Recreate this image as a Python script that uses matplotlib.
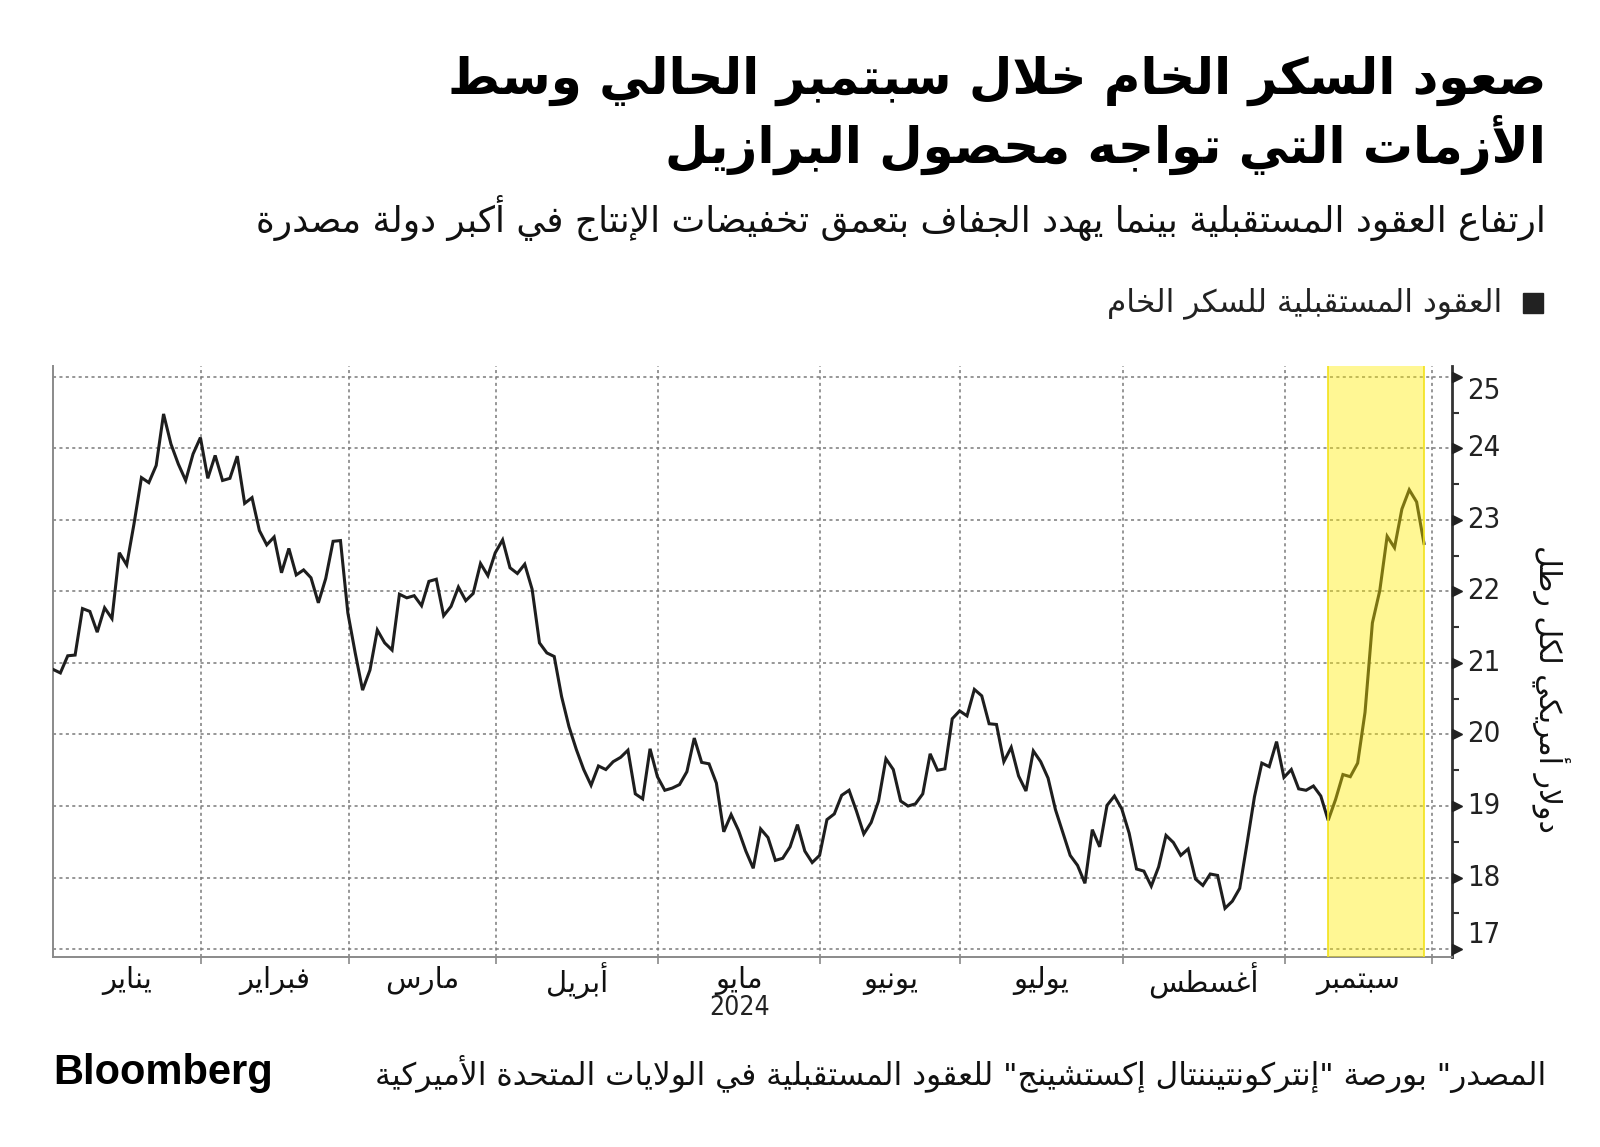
import numpy as np
import pandas as pd
import matplotlib
matplotlib.use("Agg")
import matplotlib.pyplot as plt
from matplotlib.transforms import blended_transform_factory

# ---------------- data ----------------
title_lines = ["صعود السكر الخام خلال سبتمبر الحالي وسط",
               "الأزمات التي تواجه محصول البرازيل"]
subtitle = "ارتفاع العقود المستقبلية بينما يهدد الجفاف بتعمق تخفيضات الإنتاج في أكبر دولة مصدرة"
legend_label = "العقود المستقبلية للسكر الخام"
y_label = "دولار أمريكي لكل رطل"
source_text = 'المصدر" بورصة "إنتركونتيننتال إكستشينج" للعقود المستقبلية في الولايات المتحدة الأميركية'
year_label = "2024"
month_names = ["يناير", "فبراير", "مارس", "أبريل", "مايو", "يونيو", "يوليو", "أغسطس", "سبتمبر"]
y_ticks = [17, 18, 19, 20, 21, 22, 23, 24, 25]

calendar_start = "2024-01-02"
calendar_end = "2024-09-30"
market_holidays = ["2024-01-15", "2024-02-19", "2024-03-29", "2024-05-27",
                   "2024-06-19", "2024-07-04", "2024-09-02"]
highlight_start = "2024-09-10"
highlight_end = "2024-09-27"

# raw sugar futures, US cents per pound, one value per trading day from 2 Jan 2024
sugar_price = [
    20.91, 20.86, 21.10, 21.11, 21.76, 21.72, 21.43, 21.77, 21.62, 22.54,
    22.37, 22.95, 23.59, 23.52, 23.76, 24.48, 24.06, 23.78, 23.55, 23.92,
    24.15, 23.58, 23.90, 23.55, 23.58, 23.89, 23.23, 23.31, 22.85, 22.65,
    22.76, 22.26, 22.60, 22.23, 22.30, 22.19, 21.84, 22.18, 22.70, 22.71,
    21.70, 21.14, 20.62, 20.90, 21.46, 21.28, 21.18, 21.96, 21.91, 21.94,
    21.80, 22.14, 22.17, 21.66, 21.79, 22.06, 21.87, 21.97, 22.39, 22.22,
    22.54, 22.72, 22.33, 22.25, 22.38, 22.03, 21.28, 21.14, 21.09, 20.53,
    20.11, 19.79, 19.51, 19.29, 19.56, 19.51, 19.62, 19.68, 19.78, 19.17,
    19.10, 19.80, 19.41, 19.22, 19.25, 19.30, 19.48, 19.95, 19.61, 19.59,
    19.32, 18.64, 18.88, 18.66, 18.37, 18.13, 18.68, 18.56, 18.24, 18.27,
    18.43, 18.74, 18.37, 18.21, 18.31, 18.81, 18.89, 19.15, 19.22, 18.93,
    18.61, 18.77, 19.07, 19.66, 19.51, 19.07, 19.00, 19.03, 19.17, 19.73,
    19.50, 19.52, 20.22, 20.33, 20.26, 20.63, 20.54, 20.15, 20.14, 19.62,
    19.82, 19.42, 19.21, 19.77, 19.62, 19.39, 18.95, 18.63, 18.31, 18.17,
    17.92, 18.67, 18.43, 19.01, 19.14, 18.96, 18.62, 18.12, 18.09, 17.88,
    18.15, 18.59, 18.49, 18.31, 18.40, 17.98, 17.89, 18.05, 18.03, 17.57,
    17.67, 17.85, 18.48, 19.13, 19.60, 19.55, 19.90, 19.40, 19.51, 19.24,
    19.22, 19.28, 19.14, 18.80, 19.09, 19.44, 19.41, 19.60, 20.31, 21.56,
    22.01, 22.77, 22.61, 23.15, 23.42, 23.25, 22.67,
]

# ---------------- Arabic shaping (presentation forms + visual order) ----------------
FORMS = {
    '\u0621': (0xFE80, 1), '\u0622': (0xFE81, 2), '\u0623': (0xFE83, 2), '\u0624': (0xFE85, 2),
    '\u0625': (0xFE87, 2), '\u0626': (0xFE89, 4), '\u0627': (0xFE8D, 2), '\u0628': (0xFE8F, 4),
    '\u0629': (0xFE93, 2), '\u062A': (0xFE95, 4), '\u062B': (0xFE99, 4), '\u062C': (0xFE9D, 4),
    '\u062D': (0xFEA1, 4), '\u062E': (0xFEA5, 4), '\u062F': (0xFEA9, 2), '\u0630': (0xFEAB, 2),
    '\u0631': (0xFEAD, 2), '\u0632': (0xFEAF, 2), '\u0633': (0xFEB1, 4), '\u0634': (0xFEB5, 4),
    '\u0635': (0xFEB9, 4), '\u0636': (0xFEBD, 4), '\u0637': (0xFEC1, 4), '\u0638': (0xFEC5, 4),
    '\u0639': (0xFEC9, 4), '\u063A': (0xFECD, 4), '\u0641': (0xFED1, 4), '\u0642': (0xFED5, 4),
    '\u0643': (0xFED9, 4), '\u0644': (0xFEDD, 4), '\u0645': (0xFEE1, 4), '\u0646': (0xFEE5, 4),
    '\u0647': (0xFEE9, 4), '\u0648': (0xFEED, 2), '\u0649': (0xFEEF, 2), '\u064A': (0xFEF1, 4),
}
LAMALEF = {'\u0622': ('\uFEF5', '\uFEF6'), '\u0623': ('\uFEF7', '\uFEF8'),
           '\u0625': ('\uFEF9', '\uFEFA'), '\u0627': ('\uFEFB', '\uFEFC')}


def shape_ar(text):
    toks = []
    i = 0
    while i < len(text):
        c = text[i]
        if c == '\u0644' and i + 1 < len(text) and text[i + 1] in LAMALEF:
            toks.append(('LA', text[i + 1]))
            i += 2
        else:
            toks.append(('C', c))
            i += 1

    def jt(t):
        if t[0] == 'LA':
            return 'R'
        if t[1] in FORMS:
            n = FORMS[t[1]][1]
            return 'D' if n == 4 else ('R' if n == 2 else 'U')
        return 'U'

    out = []
    for k, t in enumerate(toks):
        typ = jt(t)
        p = jt(toks[k - 1]) if k > 0 else 'U'
        nx = jt(toks[k + 1]) if k + 1 < len(toks) else 'U'
        cp = typ in 'DR' and p == 'D'
        cn = typ == 'D' and nx in 'DR'
        if t[0] == 'LA':
            iso, fin = LAMALEF[t[1]]
            out.append(fin if cp else iso)
        elif typ == 'U':
            out.append(t[1])
        else:
            start, n = FORMS[t[1]]
            if n == 2:
                idx = 1 if cp else 0
            else:
                idx = 3 if (cp and cn) else (1 if cp else (2 if cn else 0))
            out.append(chr(start + idx))
    s = ''.join(out)
    # visual order: reverse, keeping latin/digit runs left-to-right
    runs, cur, cur_ltr = [], '', None
    for ch in s:
        ltr = ch.isascii() and ch.isalnum()
        if cur and ltr != cur_ltr:
            runs.append((cur, cur_ltr))
            cur = ''
        cur += ch
        cur_ltr = ltr
    if cur:
        runs.append((cur, cur_ltr))
    return ''.join(r if l else r[::-1] for r, l in reversed(runs))


# ---------------- figure ----------------
plt.rcParams['font.family'] = ['DejaVu Sans']
W, H = 1600, 1147
fig = plt.figure(figsize=(W / 100, H / 100), dpi=100)
fig.patch.set_facecolor('white')

ax = fig.add_axes([53 / W, 1 - 957 / H, (1452 - 53) / W, (957 - 366) / H])

dates = pd.bdate_range(calendar_start, calendar_end)
dates = dates[~dates.isin(pd.to_datetime(market_holidays))]
idx = np.arange(len(sugar_price))
date_pos = pd.Series(np.arange(len(dates)), index=dates)

# month boundaries: just after last trading day of each month
months = dates.to_period('M')
last_idx = [date_pos[dates[months == m][-1]] for m in months.unique()]
boundaries = [i + 0.1 for i in last_idx]
x_right = len(dates) + 1.8

ax.plot(idx, sugar_price, color='#1e1e1e', lw=2.2, zorder=3, solid_joinstyle='miter')

hs = date_pos[pd.Timestamp(highlight_start)]
he = date_pos[pd.Timestamp(highlight_end)]
ax.axvspan(hs, he, color='#FFEC00', alpha=0.42, lw=0, zorder=4)
for xv in (hs, he):
    ax.axvline(xv, color='#F2E21A', lw=1.2, zorder=4)

ax.set_xlim(0, x_right)
ax.set_ylim(16.89, 25.15)

# grid
for yv in y_ticks:
    ax.axhline(yv, color='#7a7a7a', lw=1.1, ls=(0, (2, 2.2)), zorder=1)
for xv in boundaries:
    ax.axvline(xv, color='#7a7a7a', lw=1.1, ls=(0, (2, 2.2)), zorder=1)

# spines
ax.spines['top'].set_visible(False)
ax.spines['left'].set_color('#8a8a8a')
ax.spines['left'].set_linewidth(1.4)
ax.spines['bottom'].set_color('#8a8a8a')
ax.spines['bottom'].set_linewidth(1.4)
ax.spines['right'].set_color('#333333')
ax.spines['right'].set_linewidth(2.0)

# y axis on right
ax.yaxis.tick_right()
ax.set_yticks(y_ticks)
ax.set_yticklabels([])
ax.set_yticks([v + 0.5 for v in y_ticks[:-1]], minor=True)
ax.tick_params(axis='y', which='major', length=0)
ax.tick_params(axis='y', which='minor', direction='out', length=5, width=1.5, color='#333333')
ytrans = ax.get_yaxis_transform()
ax.plot(np.full(len(y_ticks), 1.0035), y_ticks, ls='none', marker='>', ms=7, color='#222222',
        transform=ytrans, clip_on=False, zorder=6)
for k, v in enumerate(y_ticks):
    va = 'bottom' if k == 0 else ('top' if k == len(y_ticks) - 1 else 'center')
    ax.text(1.011, v, str(v), transform=ytrans, ha='left', va=va, fontsize=21,
            fontstretch='condensed', color='#222222')

# x ticks at month boundaries
ax.set_xticks(boundaries)
ax.set_xticklabels([])
ax.tick_params(axis='x', which='major', direction='out', length=5, width=1.2, color='#8a8a8a')

trans = blended_transform_factory(ax.transData, ax.transAxes)
lefts = [0] + boundaries[:-1]
for name, a, b in zip(month_names, lefts, boundaries):
    ax.text((a + b) / 2, -0.040, shape_ar(name), transform=trans, ha='center', va='center',
            fontsize=21, color='#111111')
may_i = 4
ax.text((lefts[may_i] + boundaries[may_i]) / 2, -0.087, year_label, transform=trans,
        ha='center', va='center', fontsize=19, fontstretch='condensed', color='#222222')

# y label
fig.text(1550 / W, 1 - 689 / H, shape_ar(y_label), rotation=270, ha='center', va='center',
         fontsize=21.5, color='#111111')

# titles
fig.text(1546 / W, 1 - 94 / H, shape_ar(title_lines[0]), ha='right', va='baseline',
         fontsize=36, fontweight='bold', color='#000000')
fig.text(1546 / W, 1 - 163 / H, shape_ar(title_lines[1]), ha='right', va='baseline',
         fontsize=36, fontweight='bold', color='#000000')
fig.text(1546 / W, 1 - 232 / H, shape_ar(subtitle), ha='right', va='baseline',
         fontsize=25.8, color='#111111')

# legend
fig.patches.append(plt.Rectangle((1523 / W, 1 - 313 / H), 20 / W, 20 / H,
                                 transform=fig.transFigure, color='#222222'))
fig.text(1502 / W, 1 - 303 / H, shape_ar(legend_label), ha='right', va='center',
         fontsize=22.5, color='#222222')

# footer
fig.text(53 / W, 1 - 1073 / H, "Bloomberg", ha='left', va='center', fontsize=30,
         fontweight='bold', family='Liberation Sans', color='#000000')
fig.text(1546 / W, 1 - 1074 / H, shape_ar(source_text), ha='right', va='center',
         fontsize=22.5, color='#111111')

fig.savefig('out.png', dpi=100, facecolor='white')
